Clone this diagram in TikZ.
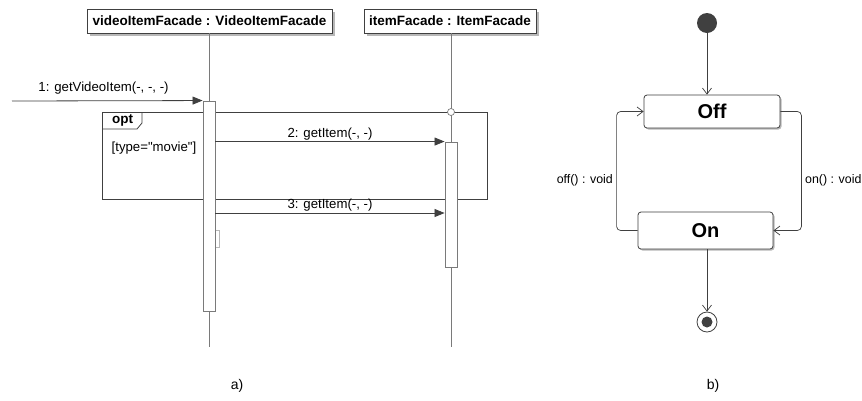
\documentclass[tikz,border=0pt]{standalone}
\usepackage{fontspec}
\setmainfont{Liberation Sans}
% a copy of the family without TeX ligature mapping, so that " stays straight
\newfontfamily\plainsans{Liberation Sans}
\usetikzlibrary{arrows.meta,shadows,calc}
\definecolor{lifegray}{HTML}{7A7A7A}
\definecolor{inkgray}{HTML}{404040}
\definecolor{shadowgray}{HTML}{B8B8B8}
\tikzset{
  header/.style={draw=inkgray, fill=white, line width=0.8pt, inner sep=0pt,
    font=\bfseries\fontsize{13.5}{15}\selectfont,
    drop shadow={shadow xshift=3pt, shadow yshift=-3pt, fill=shadowgray, opacity=1}},
  lifeline/.style={draw=lifegray, line width=0.9pt},
  activation/.style={draw=lifegray, fill=white, line width=0.9pt, inner sep=0pt,
    minimum width=12pt},
  msg/.style={draw=inkgray, line width=0.8pt, -{Triangle[length=10pt,width=8pt]}},
  msglabel/.style={font=\fontsize{13.2}{15}\selectfont, inner sep=0pt},
  frameline/.style={draw=inkgray, line width=0.8pt},
  state/.style={draw=inkgray, fill=white, rounded corners=3pt, line width=0.8pt,
    inner sep=0pt, font=\bfseries\fontsize{20}{22}\selectfont,
    drop shadow={shadow xshift=1.5pt, shadow yshift=-1.5pt, fill=shadowgray, opacity=1}},
  trans/.style={draw=inkgray, line width=0.7pt, -{Straight Barb[length=6pt,width=9pt]}},
  translabel/.style={font=\fontsize{12.4}{14}\selectfont, inner sep=0pt},
  caption/.style={font=\fontsize{14}{16}\selectfont, inner sep=0pt}
}
\begin{document}
\begin{tikzpicture}[x=1pt,y=-1pt]
\useasboundingbox[fill=white] (0,0) rectangle (862,400);

% ---------- sequence diagram ----------
% combined fragment "opt"
\draw[frameline] (102,112) rectangle (487,199);
\node[font=\bfseries\fontsize{13.5}{15}\selectfont, inner sep=0pt] (optlabel) at (122.5,120.5) {opt};
\draw[frameline] (102,129) -- (137,129) -- (142,123) -- (142,112);
\node[msglabel, font=\plainsans\fontsize{13.2}{15}\selectfont] (guard) at (154,148) {[type="movie"]};

% lifeline heads
\node[header, minimum width=245pt, minimum height=24pt] (vif) at (209.5,21) {videoItemFacade : VideoItemFacade};
\node[header, minimum width=172pt, minimum height=24pt] (itf) at (450,21) {itemFacade : ItemFacade};

% lifelines
\coordinate (vifend) at (209,347);
\coordinate (itfend) at (451,347);
\draw[lifeline] (vif.south -| vifend) -- (vifend);
\draw[lifeline] (itf.south -| itfend) -- (itfend);

% lifeline crossing the fragment border
\node[circle, draw=lifegray, fill=white, line width=0.7pt, inner sep=0pt, minimum size=7pt] (gate) at (451,112) {};

% activations
\node[activation, minimum height=210pt] (act1) at (209,206) {};
\node[activation, minimum height=125pt] (act2) at (451,204.5) {};

% faint mark beside the first activation
\draw[shadowgray, line width=0.8pt] (216,230) -- (219,230) -- (219,247) -- (216,247);

% messages
\coordinate (caller) at (12,101);
\coordinate (m3) at (0,213);
\draw[msg] (caller) -- (act1.north west);
\node[msglabel] (lab1) at (103.5,88) {1: getVideoItem(-, -, -)};
\draw[msg] (act1.east |- act2.north) -- (act2.north west);
\node[msglabel] (lab2) at (330,134.5) {2: getItem(-, -)};
\draw[msg] (act1.east |- m3) -- (act2.west |- m3);
\node[msglabel] (lab3) at (330,205.5) {3: getItem(-, -)};

\node[caption] (capa) at (237,386) {a)};

% ---------- state machine ----------
\node[circle, fill=inkgray, inner sep=0pt, minimum size=20pt] (init) at (707,23) {};
\node[state, minimum width=136pt, minimum height=33pt] (off) at (712,111.5) {Off};
\node[state, minimum width=135pt, minimum height=37pt] (on) at (705.5,230.5) {On};
\node[circle, draw=inkgray, fill=white, line width=0.8pt, inner sep=0pt, minimum size=20pt] (final) at (707,322) {};
\node[circle, fill=inkgray, inner sep=0pt, minimum size=11pt] (finaldot) at (final) {};

\draw[trans] (init) -- (init |- off.north);
\draw[trans, rounded corners=4pt] (on.west) -- ++(-21,0) |- (off.west);
\draw[trans, rounded corners=4pt] (off.east) -- ++(21,0) |- (on.east);
\draw[trans] (on.south -| final) -- (final.north);

\node[translabel, anchor=east] (offlab) at (613,180) {off() : void};
\node[translabel, anchor=west] (onlab) at (805,180) {on() : void};

\node[caption] (capb) at (713,386) {b)};
\end{tikzpicture}
\end{document}
